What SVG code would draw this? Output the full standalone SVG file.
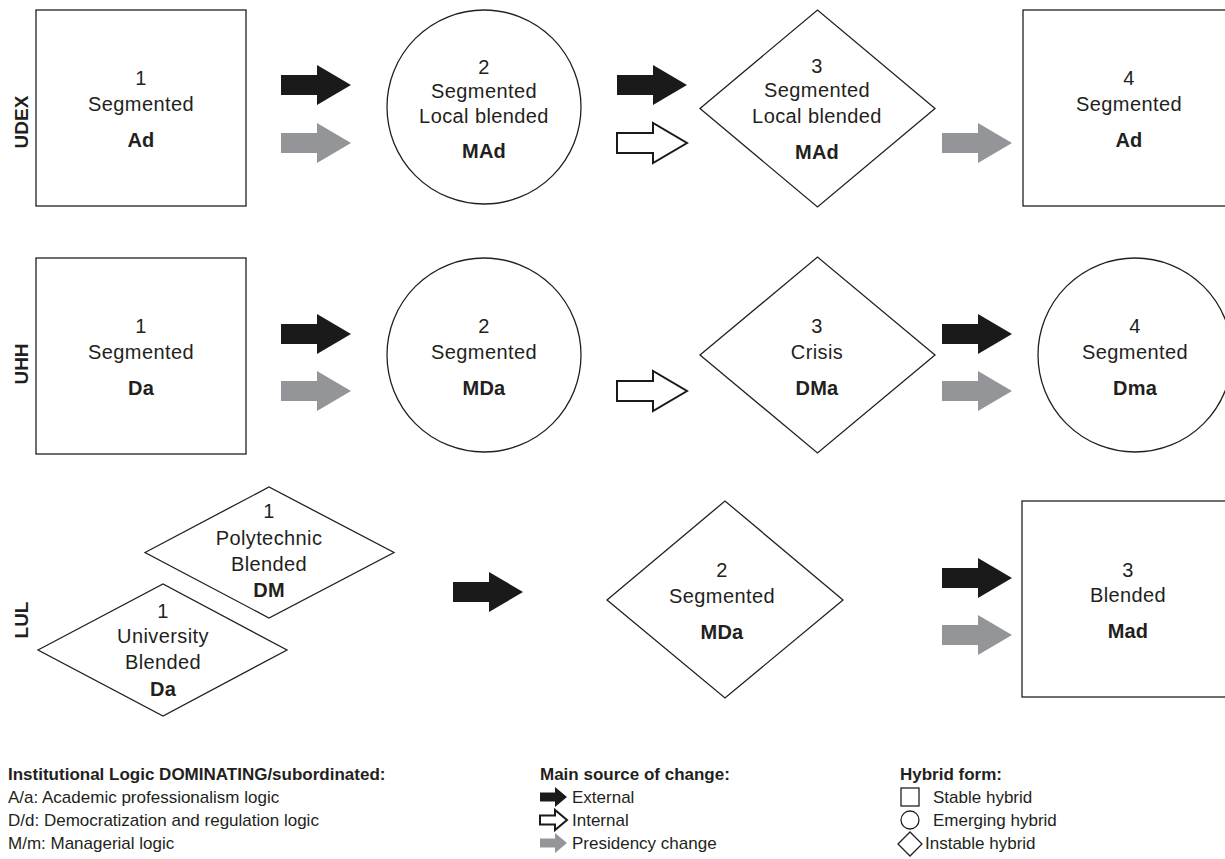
<svg xmlns="http://www.w3.org/2000/svg" xmlns:xlink="http://www.w3.org/1999/xlink" width="1225" height="859" viewBox="0 0 1225 859">
<style>
.shape{fill:#fff;stroke:#231f20;stroke-width:1.3}
.t{font-family:"Liberation Sans",Arial,sans-serif;font-size:20px;letter-spacing:0.4px;fill:#231f20;text-anchor:middle}
.b{font-weight:bold;letter-spacing:0.2px}
.row{font-family:"Liberation Sans",Arial,sans-serif;font-size:19px;font-weight:bold;fill:#231f20;text-anchor:middle}
.lg{font-family:"Liberation Sans",Arial,sans-serif;font-size:17px;fill:#231f20}
.lgb{font-weight:bold}
.ext{fill:#1a1a1a}
.pres{fill:#939598}
.int{fill:#fff;stroke:#1a1a1a;stroke-width:2}
</style>
<defs>
<path id="arr" d="M0,-10 H36 V-20 L70,0 L36,20 V10 H0 Z"/>
<path id="sarr" d="M0,-4.5 H15 V-10 L27,0 L15,10 V4.5 H0 Z"/>
</defs>
<rect width="1225" height="859" fill="#fff"/>

<g id="row-labels">
<text class="row" transform="translate(28,122) rotate(-90)">UDEX</text>
<text class="row" transform="translate(28,364) rotate(-90)">UHH</text>
<text class="row" transform="translate(28,620) rotate(-90)">LUL</text>
</g>

<g id="udex-1">
<rect class="shape" x="36" y="10" width="210" height="196"/>
<text class="t" x="141" y="85">1</text>
<text class="t" x="141" y="111">Segmented</text>
<text class="t b" x="141" y="147">Ad</text>
</g>
<g id="udex-2">
<circle class="shape" cx="484" cy="107" r="97"/>
<text class="t" x="484" y="74">2</text>
<text class="t" x="484" y="98">Segmented</text>
<text class="t" x="484" y="123">Local blended</text>
<text class="t b" x="484" y="158">MAd</text>
</g>
<g id="udex-3">
<polygon class="shape" points="700,108.5 817.5,10 935,108.5 817.5,207"/>
<text class="t" x="817" y="73">3</text>
<text class="t" x="817" y="97">Segmented</text>
<text class="t" x="817" y="123">Local blended</text>
<text class="t b" x="817" y="159">MAd</text>
</g>
<g id="udex-4">
<rect class="shape" x="1023" y="10" width="215" height="196"/>
<text class="t" x="1129" y="85">4</text>
<text class="t" x="1129" y="111">Segmented</text>
<text class="t b" x="1129" y="147">Ad</text>
</g>

<g id="uhh-1">
<rect class="shape" x="36" y="258" width="210" height="196"/>
<text class="t" x="141" y="333">1</text>
<text class="t" x="141" y="359">Segmented</text>
<text class="t b" x="141" y="395">Da</text>
</g>
<g id="uhh-2">
<circle class="shape" cx="484" cy="355" r="97"/>
<text class="t" x="484" y="333">2</text>
<text class="t" x="484" y="359">Segmented</text>
<text class="t b" x="484" y="395">MDa</text>
</g>
<g id="uhh-3">
<polygon class="shape" points="700,355 817.5,257 935,355 817.5,453"/>
<text class="t" x="817" y="333">3</text>
<text class="t" x="817" y="359">Crisis</text>
<text class="t b" x="817" y="395">DMa</text>
</g>
<g id="uhh-4">
<circle class="shape" cx="1135" cy="355" r="97"/>
<text class="t" x="1135" y="333">4</text>
<text class="t" x="1135" y="359">Segmented</text>
<text class="t b" x="1135" y="395">Dma</text>
</g>

<g id="lul-1-polytechnic">
<polygon class="shape" points="145,552.5 269,487 394,552.5 269,618"/>
<text class="t" x="269" y="518">1</text>
<text class="t" x="269" y="545">Polytechnic</text>
<text class="t" x="269" y="571">Blended</text>
<text class="t b" x="269" y="597">DM</text>
</g>
<g id="lul-1-university">
<polygon class="shape" points="38,650 163,584 287,650 163,716"/>
<text class="t" x="163" y="618">1</text>
<text class="t" x="163" y="643">University</text>
<text class="t" x="163" y="669">Blended</text>
<text class="t b" x="163" y="696">Da</text>
</g>
<g id="lul-2">
<polygon class="shape" points="607,600 725,501 843,600 725,698"/>
<text class="t" x="722" y="577">2</text>
<text class="t" x="722" y="603">Segmented</text>
<text class="t b" x="722" y="639">MDa</text>
</g>
<g id="lul-3">
<rect class="shape" x="1022" y="501" width="216" height="196"/>
<text class="t" x="1128" y="577">3</text>
<text class="t" x="1128" y="602">Blended</text>
<text class="t b" x="1128" y="638">Mad</text>
</g>

<g id="connectors">
<use xlink:href="#arr" class="ext" x="281" y="85"/>
<use xlink:href="#arr" class="pres" x="281" y="143"/>
<use xlink:href="#arr" class="ext" x="617" y="85"/>
<use xlink:href="#arr" class="int" x="617" y="143"/>
<use xlink:href="#arr" class="pres" x="942" y="143"/>

<use xlink:href="#arr" class="ext" x="281" y="334"/>
<use xlink:href="#arr" class="pres" x="281" y="391"/>
<use xlink:href="#arr" class="int" x="617" y="391"/>
<use xlink:href="#arr" class="ext" x="942" y="334"/>
<use xlink:href="#arr" class="pres" x="942" y="391"/>

<use xlink:href="#arr" class="ext" x="453" y="592"/>
<use xlink:href="#arr" class="ext" x="942" y="578"/>
<use xlink:href="#arr" class="pres" x="942" y="635"/>
</g>

<g id="legend-logic">
<text class="lg lgb" x="8" y="780">Institutional Logic DOMINATING/subordinated:</text>
<text class="lg" x="8" y="803">A/a: Academic professionalism logic</text>
<text class="lg" x="8" y="826">D/d: Democratization and regulation logic</text>
<text class="lg" x="8" y="849">M/m: Managerial logic</text>
</g>
<g id="legend-source">
<text class="lg lgb" x="540" y="780">Main source of change:</text>
<use xlink:href="#sarr" class="ext" x="540" y="797"/>
<text class="lg" x="572" y="803">External</text>
<use xlink:href="#sarr" class="int" x="540" y="820"/>
<text class="lg" x="572" y="826">Internal</text>
<use xlink:href="#sarr" class="pres" x="540" y="843"/>
<text class="lg" x="572" y="849">Presidency change</text>
</g>
<g id="legend-form">
<text class="lg lgb" x="900" y="780">Hybrid form:</text>
<rect class="shape" x="901" y="788" width="18" height="18"/>
<text class="lg" x="933" y="803">Stable hybrid</text>
<circle class="shape" cx="910" cy="820" r="9"/>
<text class="lg" x="933" y="826">Emerging hybrid</text>
<polygon class="shape" points="898,844 910,832 922,844 910,856"/>
<text class="lg" x="925" y="849">Instable hybrid</text>
</g>
</svg>
